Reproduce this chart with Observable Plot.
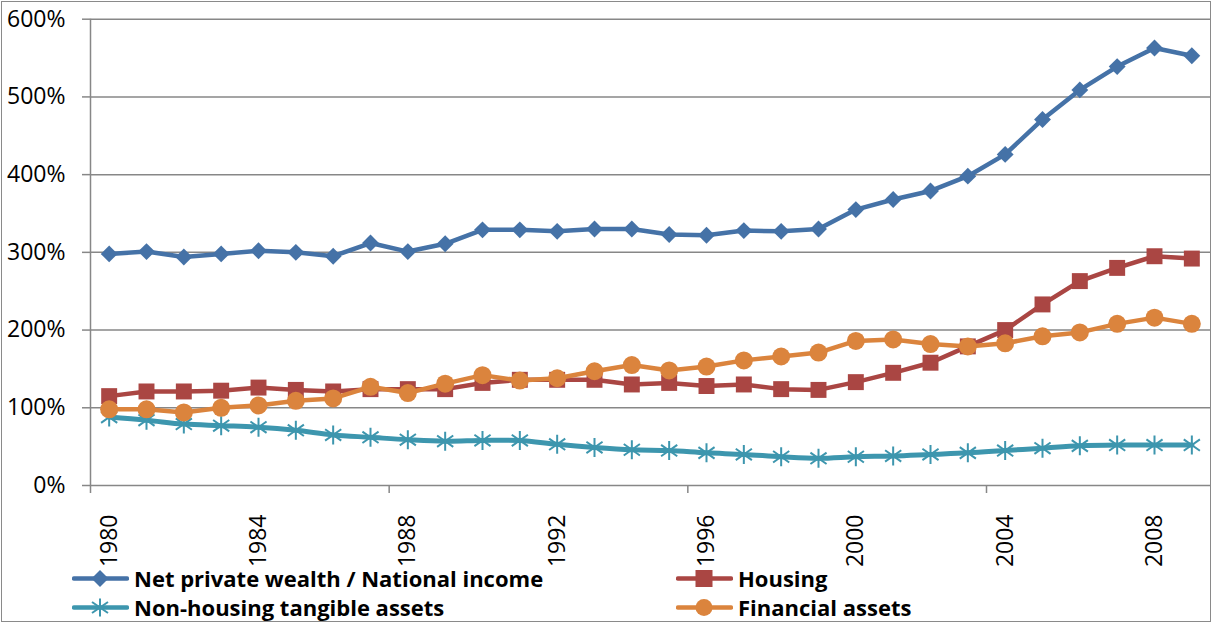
<!DOCTYPE html>
<html>
<head>
<meta charset="utf-8">
<script src="https://cdn.jsdelivr.net/npm/d3@7"></script>
<script src="https://cdn.jsdelivr.net/npm/@observablehq/plot@0.6"></script>
<style>
  html, body { margin: 0; padding: 0; background: #fff; }
  #wrap { position: relative; width: 1212px; height: 624px; overflow: hidden; font-family: "Open Sans", sans-serif; }
  #frame { position: absolute; left: 1px; top: 1px; width: 1208px; height: 619px; border: 1px solid #8a8a8a; pointer-events: none; }
  #chart { position: absolute; left: 0; top: 0; }
  .leg { position: absolute; display: flex; align-items: center; font-weight: 700; font-size: 22px; color: #000; white-space: nowrap; }
  .leg svg { margin-right: 5px; }
</style>
</head>
<body>
<div id="wrap">
  <div id="chart"></div>
  <div id="legend"></div>
  <div id="frame"></div>
</div>
<script>
const years = d3.range(1980, 2010);
const wealth = [298,301,294,298,302,300,295,312,301,311,329,329,327,330,330,323,322,328,327,330,355,368,379,398,426,471,509,539,563,553];
const housing = [115,121,121,122,126,123,121,124,124,124,132,136,136,136,130,132,128,130,124,123,133,145,158,179,200,233,263,280,295,292];
const nonHousing = [88,84,79,77,75,71,65,62,59,57,58,58,53,49,46,45,42,40,37,35,37,38,40,42,45,48,51,52,52,52];
const financial = [98,98,94,100,103,109,112,127,119,131,142,135,138,147,155,148,153,161,166,171,186,188,182,179,183,192,197,208,216,208];

const seriesNames = ["Net private wealth / National income", "Housing", "Non-housing tangible assets", "Financial assets"];
const seriesColors = ["#4572A7", "#AA4643", "#3D96AE", "#DB843D"];
const yTicks = [0, 100, 200, 300, 400, 500, 600];
const xLabelTicks = [1980, 1984, 1988, 1992, 1996, 2000, 2004, 2008];
const xBoundaryTicks = [1979.5, 1987.5, 1995.5, 2003.5];

const toRows = (vals) => years.map((y, i) => ({year: y, value: vals[i]}));
const rW = toRows(wealth), rH = toRows(housing), rN = toRows(nonHousing), rF = toRows(financial);

const asterisk = {
  draw(ctx, size) {
    const r = Math.sqrt(size / Math.PI);
    ctx.moveTo(0, -r); ctx.lineTo(0, r);
    const ax = r * 0.85, ay = r * 0.6;
    ctx.moveTo(-ax, -ay); ctx.lineTo(ax, ay);
    ctx.moveTo(-ax, ay); ctx.lineTo(ax, -ay);
  }
};

const grid = "#878787";
const chart = Plot.plot({
  width: 1212,
  height: 563,
  marginTop: 18.7,
  marginBottom: 78,
  marginLeft: 90,
  marginRight: 2,
  style: {fontFamily: "Open Sans, sans-serif", fontSize: "23px", color: "#000", background: "transparent", overflow: "visible"},
  x: {domain: [1979.5, 2009.5]},
  y: {domain: [0, 600]},
  marks: [
    Plot.gridY(yTicks, {stroke: grid, strokeOpacity: 1, strokeWidth: 1.5}),
    Plot.ruleX([1979.5], {stroke: grid, strokeWidth: 1.5}),
    Plot.axisY(yTicks, {tickSize: 8, tickPadding: 17, tickFormat: d => d + "%", stroke: grid, strokeWidth: 1.5, fill: "#000", fontSize: 23, label: null}),
    Plot.axisX(xBoundaryTicks, {tickSize: 8, tickFormat: () => "", stroke: grid, strokeWidth: 1.5, label: null}),
    Plot.axisX(xLabelTicks, {tickSize: 0, tickPadding: 29, tickRotate: -90, tickFormat: d => String(d), fill: "#000", fontSize: 23, label: null}),
    Plot.line(rW, {x: "year", y: "value", stroke: seriesColors[0], strokeWidth: 4.5}),
    Plot.dot(rW, {x: "year", y: "value", symbol: "diamond2", r: 7.6, fill: seriesColors[0], stroke: "none"}),
    Plot.line(rH, {x: "year", y: "value", stroke: seriesColors[1], strokeWidth: 4.5}),
    Plot.dot(rH, {x: "year", y: "value", symbol: "square", r: 9, fill: seriesColors[1], stroke: "none"}),
    Plot.line(rN, {x: "year", y: "value", stroke: seriesColors[2], strokeWidth: 5, curve: "catmull-rom"}),
    Plot.dot(rN, {x: "year", y: "value", symbol: asterisk, r: 9.5, fill: "none", stroke: seriesColors[2], strokeWidth: 2}),
    Plot.line(rF, {x: "year", y: "value", stroke: seriesColors[3], strokeWidth: 4.5}),
    Plot.dot(rF, {x: "year", y: "value", symbol: "circle", r: 9, fill: seriesColors[3], stroke: "none"})
  ]
});
document.getElementById("chart").appendChild(chart);

// Legend
const legendPos = [[72, 578], [676, 578], [72, 607], [676, 607]];
const markerSvg = (i) => {
  const c = seriesColors[i];
  let m = "";
  if (i === 0) m = `<path d="M28,3 L36.5,11.5 L28,20 L19.5,11.5 Z" fill="${c}"/>`;
  if (i === 1) m = `<rect x="19.5" y="3" width="17" height="17" fill="${c}"/>`;
  if (i === 2) m = `<path d="M28,2.5 V20.5 M20,6 L36,17 M20,17 L36,6" stroke="${c}" stroke-width="2" fill="none"/>`;
  if (i === 3) m = `<circle cx="28" cy="11.5" r="8.5" fill="${c}"/>`;
  return `<svg width="57" height="23" viewBox="0 0 57 23"><line x1="2" y1="11.5" x2="55" y2="11.5" stroke="${c}" stroke-width="4.5" stroke-linecap="round"/>${m}</svg>`;
};
const legend = document.getElementById("legend");
seriesNames.forEach((name, i) => {
  const d = document.createElement("div");
  d.className = "leg";
  d.style.left = legendPos[i][0] + "px";
  d.style.top = (legendPos[i][1] - 14) + "px";
  d.style.height = "28px";
  d.innerHTML = markerSvg(i) + `<span>${name}</span>`;
  legend.appendChild(d);
});
</script>
</body>
</html>
